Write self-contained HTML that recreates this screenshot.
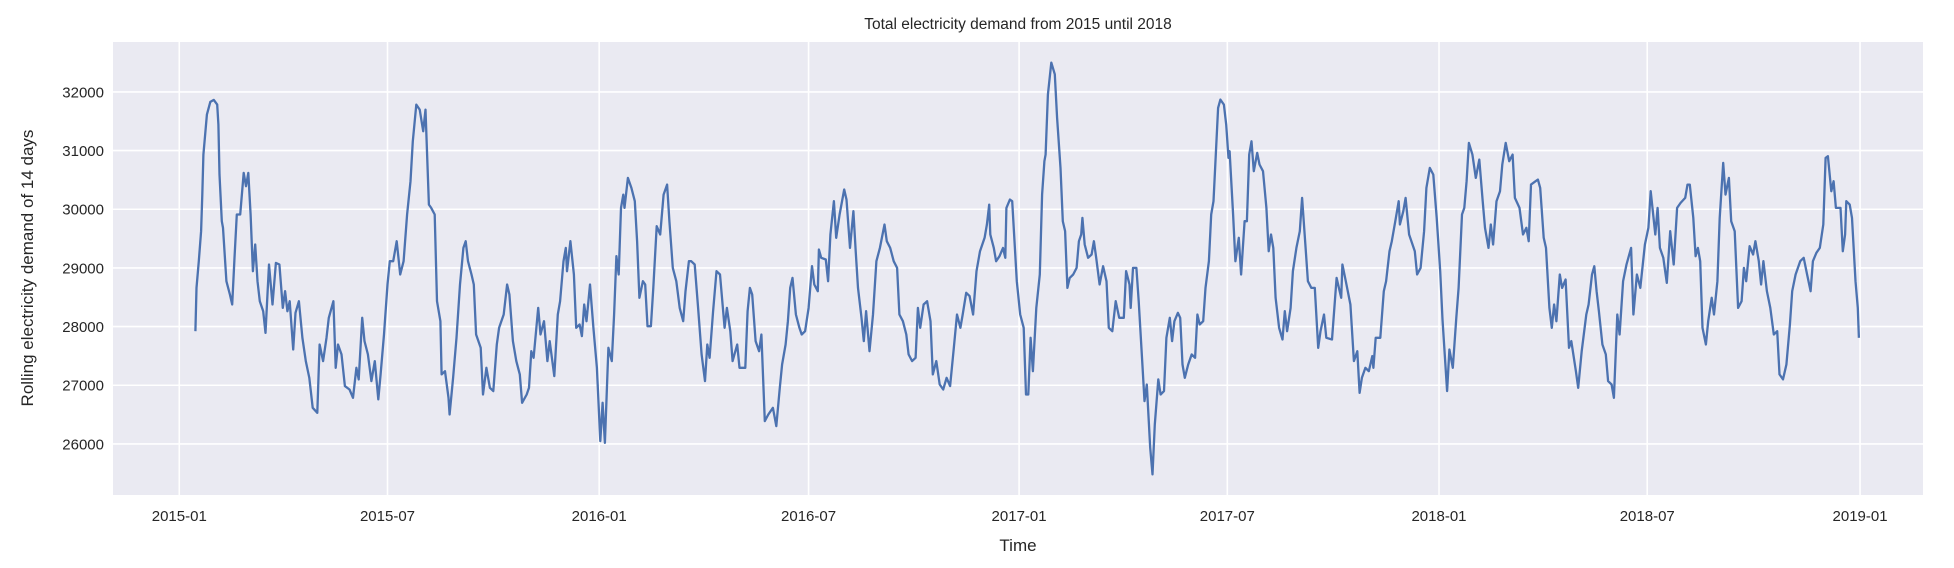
<!DOCTYPE html>
<html>
<head>
<meta charset="utf-8">
<style>
  html, body { margin: 0; padding: 0; background: #ffffff; }
  body { width: 1954px; height: 568px; overflow: hidden; }
  svg { display: block; font-family: "Liberation Sans", "DejaVu Sans", sans-serif; }
</style>
</head>
<body>
<svg id="chart" width="1954" height="568" viewBox="0 0 1954 568" xmlns="http://www.w3.org/2000/svg">
  <rect x="113" y="42" width="1810" height="453" fill="#eaeaf2"/>
  <g id="grid"></g>
  <g id="series"></g>
  <g id="xticks"></g>
  <g id="yticks"></g>
  <text x="1018" y="29" text-anchor="middle" font-size="15.5" fill="#262626">Total electricity demand from 2015 until 2018</text>
  <text x="1018" y="551" text-anchor="middle" font-size="17" fill="#262626">Time</text>
  <text transform="translate(33,268) rotate(-90)" text-anchor="middle" font-size="17" fill="#262626">Rolling electricity demand of 14 days</text>
</svg>
<script>
// Days since 2015-01-01
const days = [14,15,17,19,20,21,24,27,30,33,34,35,37,38,41,44,46,48,50,53,56,58,60,62,64,66,68,70,73,75,78,81,84,87,90,92,94,96,99,101,104,107,110,113,116,120,122,125,128,130,134,136,138,141,144,148,151,154,156,159,161,164,167,170,173,175,178,181,183,186,189,192,195,198,201,203,206,209,212,214,217,219,222,224,227,228,231,234,235,238,241,244,247,
249,251,254,256,258,262,264,267,270,273,276,278,282,285,287,290,293,296,298,302,304,306,308,312,314,317,320,322,326,329,331,334,336,337,340,343,345,348,350,352,354,357,360,363,366,368,370,373,376,378,380,382,384,386,387,390,393,396,398,400,403,405,407,410,412,415,418,421,424,426,429,432,435,438,440,443,445,448,451,454,457,459,461,464,467,470,474,476,479,481,485,487,
492,494,496,498,501,504,506,509,512,516,519,522,524,527,529,531,533,536,539,541,544,547,550,552,555,556,558,562,564,566,569,571,574,578,580,583,586,588,590,593,595,597,600,603,606,609,613,615,618,621,624,626,629,632,634,637,640,642,644,647,650,653,655,658,661,664,667,670,673,676,679,681,684,687,690,693,696,700,702,704,705,708,710,713,716,718,719,722,724,726,728,731,734,
736,738,740,742,745,748,750,752,753,755,758,761,763,766,768,770,772,774,777,780,782,784,785,787,790,793,795,797,800,803,806,808,811,814,817,821,823,826,827,829,832,834,837,839,841,844,846,848,851,853,856,858,861,863,865,868,870,872,874,877,880,883,885,887,890,892,895,897,899,901,903,905,908,910,912,913,916,918,921,923,926,928,930,932,934,937,939,942,945,947,949,951,953,956,959,961,963,966,968,971,974,976,
979,981,984,987,990,992,995,997,1002,1006,1008,1010,1011,1014,1018,1021,1024,1026,1028,1031,1034,1037,1038,1040,1044,1047,1049,1052,1054,1057,1060,1061,1064,1066,1069,1071,1074,1076,1079,1082,1084,1087,1090,1093,1096,1098,1102,1104,1107,1110,1112,1115,1117,1119,1121,1124,1127,1130,1133,1135,1138,1140,1142,1145,1148,1150,1153,1156,1159,1161,1165,1168,1171,1173,1175,1179,1181,1183,1186,1188,1191,1193,1195,1197,1200,1202,1205,1208,1210,1214,1216,1219,
1223,1225,1228,1230,1232,1234,1237,1240,1242,1245,1247,1250,1252,1255,1258,1262,1264,1267,1270,1274,1277,1279,1283,1285,1287,1290,1293,1296,1299,1302,1305,1309,1311,1313,1316,1318,1320,1322,1324,1327,1329,1332,1334,1337,1339,1342,1344,1347,1349,1352,1355,1358,1360,1362,1365,1368,1370,1373,1375,1377,1380,1383,1386,1389,1391,1394,1397,1400,1402,1405,1409,1412,1415,1418,1420,1423,1426,1429,1431,1433,1436,1438,1440,1444,1446,1448,1449,1452,1454,1457,1459,1460];
const demand = [27922,28660,29115,29626,30250,30932,31614,31830,31864,31784,31443,30591,29796,29683,28774,28547,28376,29171,29910,29910,30620,30393,30620,29910,28944,29399,28774,28433,28262,27893,29058,28376,29086,29058,28319,28603,28262,28433,27610,28234,28433,27808,27411,27127,26615,26530,27695,27411,27808,28149,28433,27297,27695,27525,26985,26928,26786,27297,27099,28149,27752,27525,27070,27411,26758,27184,27865,28717,29115,29115,29456,28887,29115,29910,30478,31159,31784,31699,31330,31699,30080,30023,29910,28433,28092,27184,27240,26786,26502,27127,27808,28717,29342,
29456,29115,28887,28717,27865,27638,26843,27297,26956,26900,27695,27979,28206,28717,28547,27752,27411,27184,26701,26843,26956,27581,27468,28319,27865,28092,27411,27752,27155,28206,28433,29115,29342,28944,29456,28887,27979,28036,27837,28376,28092,28717,27979,27297,26047,26701,26019,27638,27411,28206,29200,28887,30023,30250,30023,30535,30364,30137,29456,28490,28774,28717,28007,28007,28660,29711,29570,30250,30421,29797,29001,28774,28319,28092,28603,29115,29115,29058,28319,27525,27070,27695,27468,28262,28944,28887,27979,28319,27922,27411,27695,27297,
27297,28262,28660,28547,27752,27581,27865,26388,26502,26616,26303,26956,27354,27695,28092,28660,28830,28206,27979,27865,27922,28319,29029,28717,28603,29314,29172,29143,28774,29570,30137,29513,29910,30336,30165,29342,29967,29285,28660,28149,27752,28262,27581,28206,29115,29342,29740,29456,29342,29115,29001,28206,28092,27865,27525,27411,27468,28319,27979,28376,28433,28092,27184,27411,27013,26928,27127,26985,27581,28206,27979,28206,28575,28519,28206,28944,29285,29513,29740,30080,29570,29342,29115,29200,29342,29172,30023,30165,30137,29456,28774,28206,27979,
26843,26843,27808,27240,28319,28887,30250,30819,30932,31954,32500,32300,31557,30705,29797,29627,28660,28830,28887,29001,29456,29570,29853,29399,29172,29229,29456,29172,28717,29029,28774,27979,27922,28433,28149,28149,28944,28717,28319,29001,29001,28433,27411,26729,27013,25934,25480,26331,27099,26843,26900,27808,28149,27752,28092,28234,28149,27354,27127,27354,27525,27468,28206,28036,28092,28660,29115,29910,30137,30932,31727,31869,31784,31443,30875,30989,29910,29115,29513,28887,29797,29797,30932,31159,30648,30961,30762,30648,30023,29285,29570,29342,28490,27979,27780,28262,27922,28319,28944,29342,29626,30193,
29342,28774,28660,28660,27638,27922,28206,27808,27780,28830,28660,28490,29058,28774,28376,27411,27581,26871,27127,27297,27240,27496,27297,27808,27808,28603,28774,29285,29456,29797,30137,29740,29967,30193,29570,29456,29285,28887,29001,29626,30364,30705,30591,29853,28944,28120,26900,27610,27297,28149,28660,29910,30023,30478,31131,30932,30535,30847,30137,29683,29342,29740,29399,30137,30307,30762,31131,30819,30932,30193,30023,29570,29683,29456,30421,30478,30506,30364,29513,29342,28319,27979,28376,28092,28887,28660,28802,27638,27752,27240,26956,27581,
28206,28376,28887,29029,28603,28262,27695,27525,27070,27013,26786,28206,27865,28774,29058,29342,28206,28887,28660,29399,29683,30307,29570,30023,29342,29172,28745,29626,29058,30023,30108,30193,30421,30421,29853,29200,29342,29115,27979,27695,28092,28490,28206,28774,29853,30790,30250,30535,29797,29626,28319,28433,29001,28774,29370,29229,29456,29115,28717,29115,28603,28319,27865,27922,27184,27099,27354,28036,28603,28887,29115,29172,28887,28603,29115,29257,29342,29740,30876,30904,30307,30478,30023,30023,29285,29570,30137,30080,29853,28774,28319,27808];

const yTickValues = [26000,27000,28000,29000,30000,31000,32000];
const xTickDays = [0,181,365,547,730,911,1095,1276,1461];
const xTickLabels = ["2015-01","2015-07","2016-01","2016-07","2017-01","2017-07","2018-01","2018-07","2019-01"];

const NS = "http://www.w3.org/2000/svg";
const PL = 113, PR = 1923, PT = 42, PB = 495;
const X0 = -57.6, X1 = 1515.7, Y0 = 25129, Y1 = 32851;
function xs(d) { return PL + (d - X0) / (X1 - X0) * (PR - PL); }
function ys(v) { return PB - (v - Y0) / (Y1 - Y0) * (PB - PT); }

const grid = document.getElementById('grid');
const xt = document.getElementById('xticks');
const yt = document.getElementById('yticks');

yTickValues.forEach(function (v) {
  const y = ys(v);
  const ln = document.createElementNS(NS, 'line');
  ln.setAttribute('x1', PL); ln.setAttribute('x2', PR);
  ln.setAttribute('y1', y); ln.setAttribute('y2', y);
  ln.setAttribute('stroke', '#ffffff'); ln.setAttribute('stroke-width', '1.6');
  
  
  grid.appendChild(ln);
  const t = document.createElementNS(NS, 'text');
  t.setAttribute('x', 104); t.setAttribute('y', y + 5.5);
  t.setAttribute('text-anchor', 'end'); t.setAttribute('font-size', '15');
  t.setAttribute('fill', '#262626');
  t.textContent = String(v);
  
  
  yt.appendChild(t);
});

xTickDays.forEach(function (d, i) {
  const x = xs(d);
  const ln = document.createElementNS(NS, 'line');
  ln.setAttribute('x1', x); ln.setAttribute('x2', x);
  ln.setAttribute('y1', PT); ln.setAttribute('y2', PB);
  ln.setAttribute('stroke', '#ffffff'); ln.setAttribute('stroke-width', '1.6');
  
  
  grid.appendChild(ln);
  const t = document.createElementNS(NS, 'text');
  t.setAttribute('x', x); t.setAttribute('y', 521);
  t.setAttribute('text-anchor', 'middle'); t.setAttribute('font-size', '15');
  t.setAttribute('fill', '#262626');
  t.textContent = xTickLabels[i];
  
  
  xt.appendChild(t);
});

let dstr = '';
for (let i = 0; i < days.length; i++) {
  dstr += (i ? 'L' : 'M') + xs(days[i]).toFixed(1) + ',' + ys(demand[i]).toFixed(1);
}
const path = document.createElementNS(NS, 'path');
path.setAttribute('d', dstr);
path.setAttribute('fill', 'none');
path.setAttribute('stroke', '#4c72b0');
path.setAttribute('stroke-width', '2.3');
path.setAttribute('stroke-linejoin', 'round');


document.getElementById('series').appendChild(path);
</script>
</body>
</html>
